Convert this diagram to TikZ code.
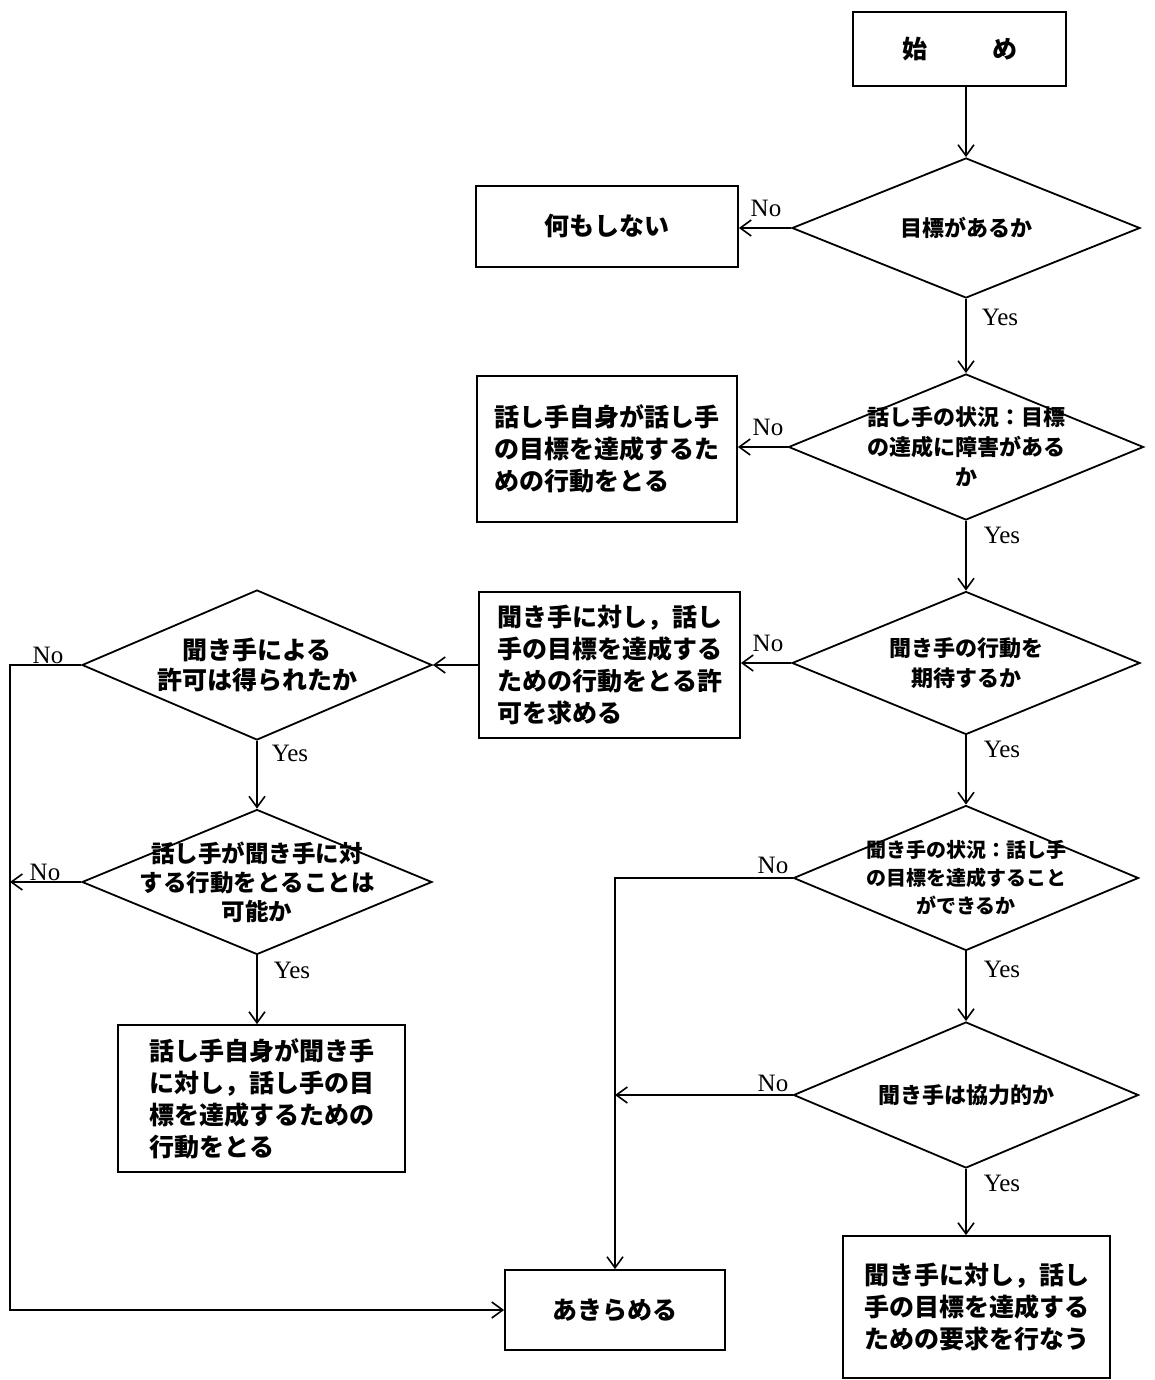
\documentclass[tikz,border=0pt]{standalone}
\usepackage{fontspec}
\setmainfont{Liberation Serif}
\newfontfamily\jp{Noto Sans CJK JP}
\usetikzlibrary{shapes.geometric,arrows.meta}
\begin{document}
\begin{tikzpicture}[x=1pt,y=-1pt,
  line width=1.8pt,
  >={Straight Barb[length=11pt,width=16pt,line width=1.6pt]},
  arr/.style={->},
  box/.style={draw,rectangle,inner sep=0pt,font=\jp\bfseries\fontsize{25}{32}\selectfont,align=left},
  dec/.style={draw,diamond,inner sep=0pt},
  dtext/.style={font=\jp\bfseries\fontsize{22}{30}\selectfont,align=center,inner sep=0pt},
  yn/.style={font=\fontsize{25}{25}\selectfont,inner sep=0pt}
]
\useasboundingbox (0,0) rectangle (1154,1380);
% boxes
\node[box,minimum width=213pt,minimum height=74pt] (start) at (959.5,49) {始\hspace{2.6em}め};
\node[box,minimum width=262pt,minimum height=81pt] (nothing) at (607,226.5) {何もしない};
\node[box,minimum width=260pt,minimum height=146pt] (act1) at (607,449) {話し手自身が話し手\\の目標を達成するた\\めの行動をとる};
\node[box,minimum width=261pt,minimum height=146pt] (perm) at (609.5,665) {聞き手に対し，話し\\手の目標を達成する\\ための行動をとる許\\可を求める};
\node[box,minimum width=287pt,minimum height=147pt] (act2) at (261.5,1098.5) {話し手自身が聞き手\\に対し，話し手の目\\標を達成するための\\行動をとる};
\node[box,minimum width=220pt,minimum height=80pt] (give) at (615,1310) {あきらめる};
\node[box,minimum width=267pt,minimum height=142pt] (req) at (976.5,1307) {聞き手に対し，話し\\手の目標を達成する\\ための要求を行なう};
% diamonds
\node[dec,minimum width=348pt,minimum height=140pt] (d1) at (966,228) {};
\node[dtext] at (d1) {目標があるか};
\node[dec,minimum width=355pt,minimum height=146pt] (d2) at (966,447) {};
\node[dtext] at (d2) {話し手の状況：目標\\の達成に障害がある\\か};
\node[dec,minimum width=348pt,minimum height=143pt] (d3) at (966,663) {};
\node[dtext] at (d3) {聞き手の行動を\\期待するか};
\node[dec,minimum width=350pt,minimum height=150pt] (d4) at (257,665) {};
\node[dtext,font=\jp\bfseries\fontsize{25}{30}\selectfont] at (d4) {聞き手による\\許可は得られたか};
\node[dec,minimum width=350pt,minimum height=145pt] (d5) at (257,882) {};
\node[dtext,font=\jp\bfseries\fontsize{23.5}{29}\selectfont] at (d5) {話し手が聞き手に対\\する行動をとることは\\可能か};
\node[dec,minimum width=345pt,minimum height=145pt] (d6) at (966,878) {};
\node[dtext,font=\jp\bfseries\fontsize{20}{28}\selectfont] at (d6) {聞き手の状況：話し手\\の目標を達成すること\\ができるか};
\node[dec,minimum width=345pt,minimum height=146pt] (d7) at (966,1095) {};
\node[dtext] at (d7) {聞き手は協力的か};
% coordinates
\coordinate (L) at (10,665);
\coordinate (R) at (615,878);
% connectors
\draw[arr] (start.south -| d1.north) -- (d1.north);
\draw[arr] (d1.west) -- (d1.west -| nothing.east);
\draw[arr] (d1.south) -- (d2.north);
\draw[arr] (d2.west) -- (d2.west -| act1.east);
\draw[arr] (d2.south) -- (d3.north);
\draw[arr] (d3.west) -- (d3.west -| perm.east);
\draw[arr] (perm.west) -- (d4.east);
\draw[arr] (d4.west) -- (L) |- (give.west);
\draw[arr] (d4.south) -- (d5.north);
\draw[arr] (d5.west) -- (d5.west -| L);
\draw[arr] (d5.south) -- (d5.south |- act2.north);
\draw[arr] (d3.south) -- (d6.north);
\draw[arr] (d6.west) -- (R) -- (R |- give.north);
\draw[arr] (d6.south) -- (d7.north);
\draw[arr] (d7.west) -- (d7.west -| R);
\draw[arr] (d7.south) -- (d7.south |- req.north);
% labels
\node[yn] (n1) at (766,208) {No};
\node[yn] (y1) at (1000,317) {Yes};
\node[yn] (n2) at (768,427) {No};
\node[yn] (y2) at (1002,535) {Yes};
\node[yn] (n3) at (768,643) {No};
\node[yn] (y3) at (1002,749) {Yes};
\node[yn] (n4) at (48,655) {No};
\node[yn] (y4) at (290,753) {Yes};
\node[yn] (n5) at (45,872) {No};
\node[yn] (y5) at (292,970) {Yes};
\node[yn] (n6) at (773,865) {No};
\node[yn] (y6) at (1002,969) {Yes};
\node[yn] (n7) at (773,1083) {No};
\node[yn] (y7) at (1002,1183) {Yes};
\end{tikzpicture}
\end{document}
